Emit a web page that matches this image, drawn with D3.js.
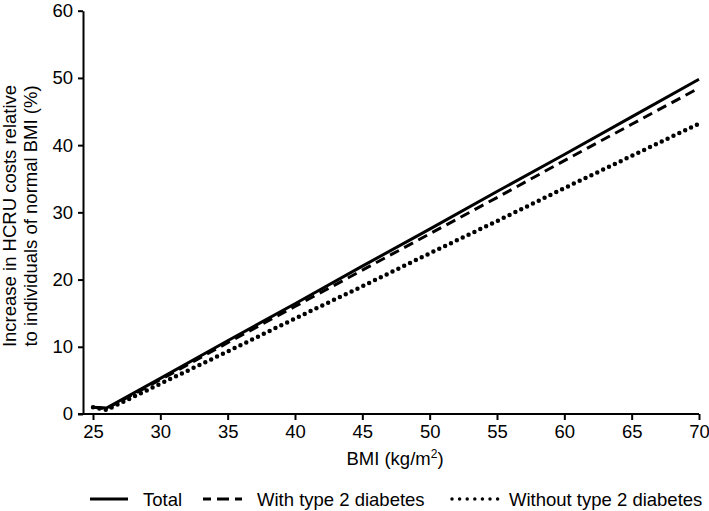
<!DOCTYPE html>
<html><head><meta charset="utf-8">
<script src="https://cdn.jsdelivr.net/npm/d3@7"></script>
<style>body{margin:0;background:#fff}svg{display:block;font-family:"Liberation Sans",Arial,sans-serif}</style>
</head><body><svg id="c" width="709" height="511"></svg>
<script>
const bmi = [25, 26, 30, 35, 40, 45, 50, 55, 60, 65, 70];
const total = [1.0, 0.9, 5.3, 10.9, 16.4, 22.0, 27.5, 33.1, 38.6, 44.2, 49.8];
const withT2D = [1.0, 0.8, 5.1, 10.6, 16.0, 21.4, 26.8, 32.2, 37.7, 43.1, 48.5];
const withoutT2D = [1.0, 0.6, 4.5, 9.3, 14.2, 19.0, 23.9, 28.7, 33.6, 38.4, 43.2];
const xTicks = [25, 30, 35, 40, 45, 50, 55, 60, 65, 70];
const yTicks = [0, 10, 20, 30, 40, 50, 60];
const seriesNames = ["Total", "With type 2 diabetes", "Without type 2 diabetes"];

const FONT = "Liberation Sans, Arial, sans-serif";
const svg = d3.select("#c");
const x = d3.scaleLinear().domain([25, 70]).range([93, 699]);
const y = d3.scaleLinear().domain([0, 60]).range([414, 10.7]);
const x0 = 83;

const styles = [
  {w: 3, dash: null, cap: "butt"},
  {w: 3, dash: "10,6", cap: "butt"},
  {w: 4.5, dash: "0,6.5", cap: "round"}
];
const series = [total, withT2D, withoutT2D];

// Y axis
const yAxis = d3.axisLeft(y).tickValues(yTicks).tickSize(5).tickPadding(5).tickSizeOuter(0);
const gy = svg.append("g").attr("transform", `translate(${x0},0)`).call(yAxis);
// X axis
const xAxis = d3.axisBottom(x).tickValues(xTicks).tickSize(6).tickPadding(5).tickSizeOuter(0);
const gx = svg.append("g").attr("transform", `translate(0,${y(0)})`).call(xAxis);
gx.select(".domain").attr("d", `M${x0 - 5},0H${x(70)}`);
[gx, gy].forEach(g => {
  g.attr("font-size", null).attr("font-family", null);
  g.selectAll(".domain, .tick line").attr("stroke", "#000").attr("stroke-width", 2);
  g.selectAll("text").style("font-size", "18.5px").attr("fill", "#000").style("font-family", FONT);
});

// lines
const line = d3.line().x((d, i) => x(bmi[i])).y(d => y(d));
series.forEach((s, k) => {
  svg.append("path").datum(s).attr("d", line)
    .attr("fill", "none").attr("stroke", "#000")
    .attr("stroke-width", styles[k].w)
    .attr("stroke-dasharray", styles[k].dash)
    .attr("stroke-linecap", styles[k].cap);
});

// axis titles
const xt = svg.append("text").attr("x", 395).attr("y", 465).attr("text-anchor", "middle").style("font-size", "18.5px");
xt.append("tspan").text("BMI (kg/m");
xt.append("tspan").style("font-size", "12px").attr("dy", -7).text("2");
xt.append("tspan").attr("dy", 7).text(")");

const yt = svg.append("text").attr("transform", "translate(0,216) rotate(-90)").attr("text-anchor", "middle").style("font-size", "18.5px");
yt.append("tspan").attr("x", 0).attr("y", 16).text("Increase in HCRU costs relative");
yt.append("tspan").attr("x", 0).attr("y", 37).text("to individuals of normal BMI (%)");

// legend
const leg = [
  {x1: 90, x2: 128, tx: 143},
  {x1: 203, x2: 242, tx: 257},
  {x1: 452, x2: 498, tx: 509}
];
leg.forEach((l, k) => {
  svg.append("line").attr("x1", l.x1).attr("x2", l.x2).attr("y1", 499).attr("y2", 499)
    .attr("stroke", "#000").attr("stroke-width", k === 2 ? 3.5 : 3)
    .attr("stroke-dasharray", k === 1 ? "12,6" : k === 2 ? "0,7.6" : null)
    .attr("stroke-dashoffset", k === 1 ? 4 : 0)
    .attr("stroke-linecap", k === 2 ? "round" : "butt");
  svg.append("text").attr("x", l.tx).attr("y", 506).style("font-size", "18.5px").text(seriesNames[k]);
});
</script></body></html>
